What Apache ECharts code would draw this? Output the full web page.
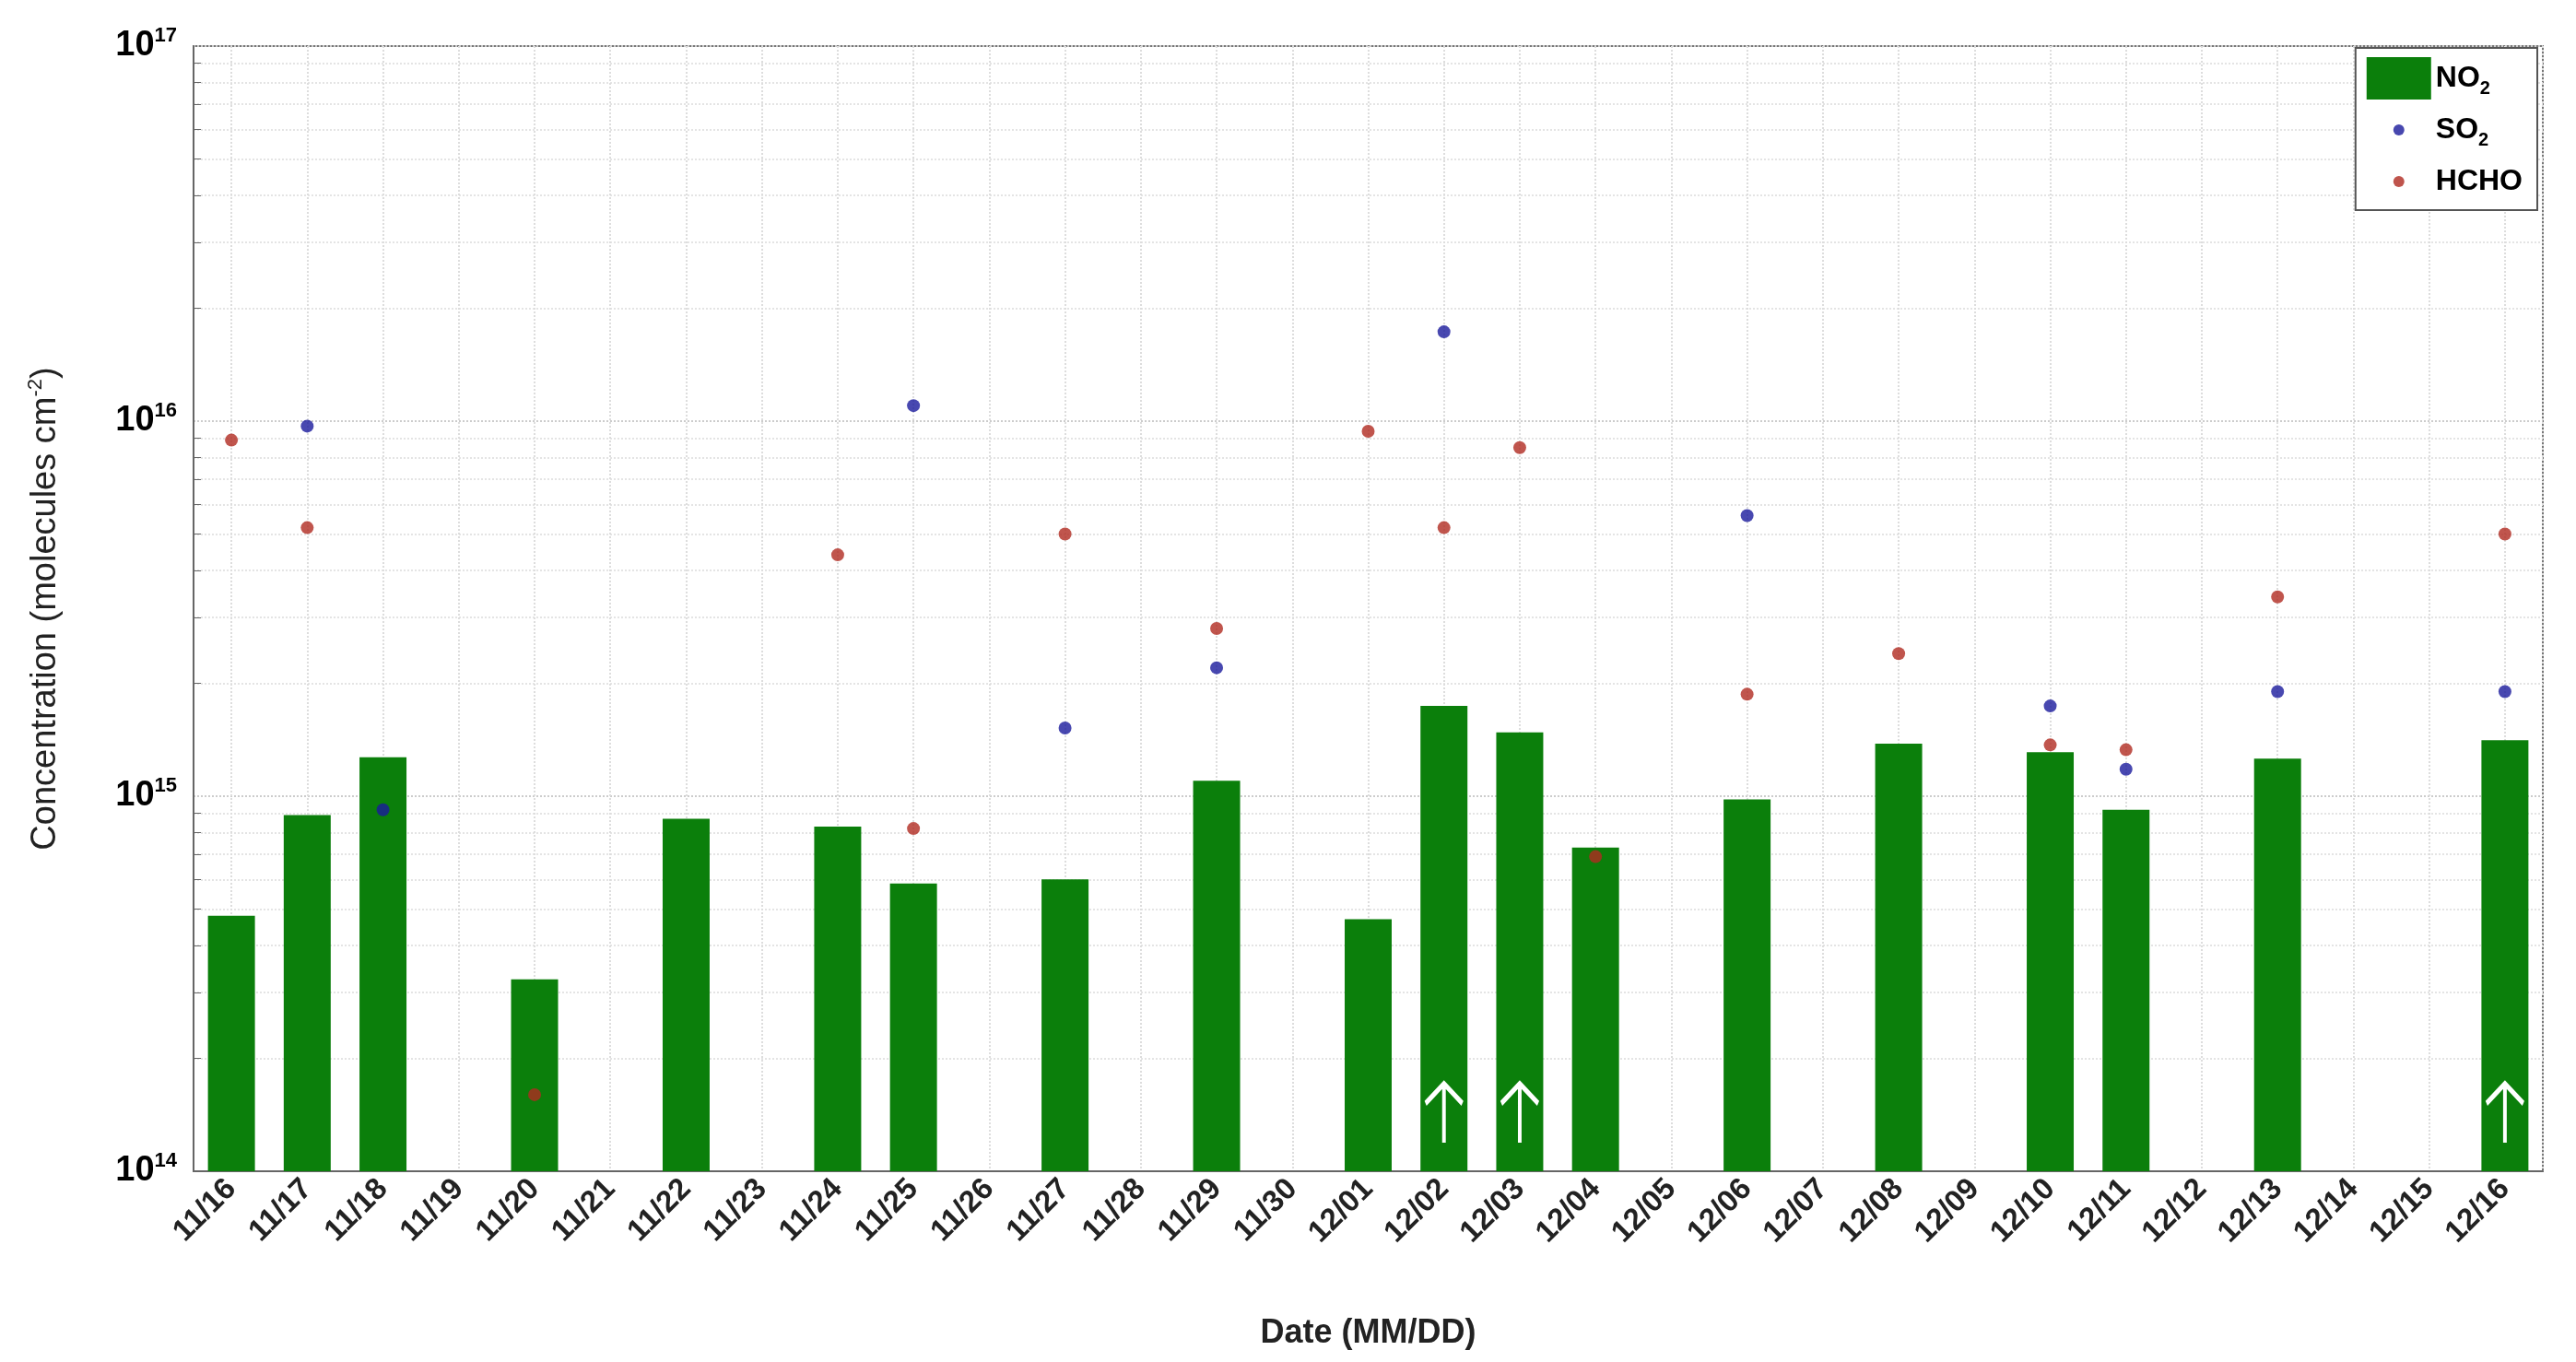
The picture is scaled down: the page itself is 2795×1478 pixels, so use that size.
<!DOCTYPE html>
<html>
<head>
<meta charset="utf-8">
<script src="https://cdn.jsdelivr.net/npm/echarts@6/dist/echarts.min.js"></script>
<style>html,body{margin:0;padding:0;background:#fff}#main{width:2795px;height:1478px}</style>
</head>
<body>
<div id="main"></div>
<script>
// dates on x axis
var dates = ['11/16','11/17','11/18','11/19','11/20','11/21','11/22','11/23','11/24','11/25','11/26','11/27','11/28','11/29','11/30',
             '12/01','12/02','12/03','12/04','12/05','12/06','12/07','12/08','12/09','12/10','12/11','12/12','12/13','12/14','12/15','12/16'];
var no2 = [4.8e14,8.9e14,1.27e15,null,3.25e14,null,8.7e14,null,8.3e14,5.85e14,null,6.0e14,null,1.1e15,null,
           4.7e14,1.74e15,1.48e15,7.3e14,null,9.8e14,null,1.38e15,null,1.31e15,9.2e14,null,1.26e15,null,null,1.41e15];
var so2 = [null,9.7e15,9.2e14,null,null,null,null,null,null,1.1e16,null,1.52e15,null,2.2e15,null,
           null,1.73e16,null,null,null,5.6e15,null,null,null,1.74e15,1.18e15,null,1.9e15,null,null,1.9e15];
var hcho = [8.9e15,5.2e15,null,null,1.6e14,null,null,null,4.4e15,8.2e14,null,5.0e15,null,2.8e15,null,
            9.4e15,5.2e15,8.5e15,6.9e14,null,1.87e15,null,2.4e15,null,1.37e15,1.33e15,null,3.4e15,null,null,5.0e15];
// days flagged with white arrows
var arrowDays = ['12/02','12/03','12/16'];

var font = 'Liberation Sans';
var BLUE = '#1a1a9c', RED = '#b02a20', GREEN = '#0b7f0b';

function dotIcon(c) {
    var svg = '<svg xmlns="http://www.w3.org/2000/svg" width="70" height="46"><circle cx="35" cy="23" r="6" fill="' + c + '"/></svg>';
    return 'image://data:image/svg+xml;charset=utf-8,' + encodeURIComponent(svg);
}

// half-step categories, used only to put vertical grid lines through the day centres
var halfSteps = [];
dates.forEach(function (d) { halfSteps.push(d + 'a', d + 'b'); });

var myChart = echarts.init(document.getElementById('main'));
var option = {
    animation: false,
    textStyle: {fontFamily: font},
    grid: {left: 210, right: 36, top: 50, bottom: 207, show: true, borderColor: '#777', borderWidth: 2},
    legend: {
        right: 42, top: 52, orient: 'vertical',
        backgroundColor: '#fff', borderColor: '#555', borderWidth: 2, padding: [10, 16, 8, 12],
        itemGap: 10, itemWidth: 70, itemHeight: 46,
        textStyle: {fontSize: 32, fontWeight: 'bold', color: '#000', rich: {s: {fontSize: 20, fontWeight: 'bold', padding: [22,0,0,0]}}},
        formatter: function (n) { return n === 'NO2' ? 'NO{s|2}' : n === 'SO2' ? 'SO{s|2}' : n; },
        data: [
            {name: 'NO2', icon: 'rect'},
            {name: 'SO2', icon: dotIcon(BLUE)},
            {name: 'HCHO', icon: dotIcon(RED)}
        ]
    },
    xAxis: [{
        type: 'category', data: dates,
        name: 'Date (MM/DD)', nameLocation: 'middle', nameGap: 158,
        nameTextStyle: {fontSize: 36, fontWeight: 'bold', color: '#222'},
        axisLine: {onZero: false, lineStyle: {color: '#666', width: 2}},
        axisTick: {alignWithLabel: true, inside: true, length: 14, lineStyle: {color: '#666'}},
        axisLabel: {rotate: 45, fontSize: 33, fontWeight: 'bold', color: '#222', interval: 0, margin: 14},
        splitLine: {show: false}
    }, {
        type: 'category', data: halfSteps, position: 'bottom',
        axisLine: {show: false}, axisTick: {show: false}, axisLabel: {show: false},
        splitLine: {show: true, interval: function (i) { return i % 2 === 1; }, lineStyle: {color: '#ddd', type: 'dotted', width: 2}}
    }],
    yAxis: {
        type: 'log', logBase: 10, min: 1e14, max: 1e17,
        name: 'Concentration (molecules cm{s|-2})', nameLocation: 'middle', nameGap: 138,
        nameTextStyle: {fontSize: 38, color: '#222', rich: {s: {fontSize: 22, color: '#222', padding: [0,0,22,0]}}},
        axisLine: {show: true, lineStyle: {color: '#666', width: 2}},
        axisTick: {inside: true, length: 14},
        minorTick: {show: true, splitNumber: 9, length: 8},
        axisLabel: {
            fontSize: 38, fontWeight: 'bold', color: '#000', margin: 18,
            formatter: function (v) { return '10{s|' + Math.round(Math.log10(v)) + '}'; },
            rich: {s: {fontSize: 22, fontWeight: 'bold', color: '#000', padding: [0,0,22,0]}}
        },
        splitLine: {lineStyle: {color: '#ccc', type: 'dotted', width: 2}},
        minorSplitLine: {show: true, lineStyle: {color: '#e4e4e4', type: 'dotted', width: 2}}
    },
    series: [
        {
            name: 'NO2', type: 'bar', data: no2, barWidth: '62%',
            itemStyle: {color: GREEN},
            markPoint: {
                silent: true,
                symbol: 'path://M0,4 L5,0 L10,4 M5,0 L5,12',
                symbolSize: [40, 64], symbolOffset: [0, -10],
                itemStyle: {color: 'none', borderColor: '#fff', borderWidth: 5},
                label: {show: false},
                data: arrowDays.map(function (d) { return {coord: [d, 1.35e14]}; })
            }
        },
        {name: 'SO2', type: 'scatter', data: so2, symbolSize: 14, itemStyle: {color: BLUE}, z: 5},
        {name: 'HCHO', type: 'scatter', data: hcho, symbolSize: 14, itemStyle: {color: RED}, z: 6}
    ]
};
myChart.setOption(option);
</script>
</body>
</html>
